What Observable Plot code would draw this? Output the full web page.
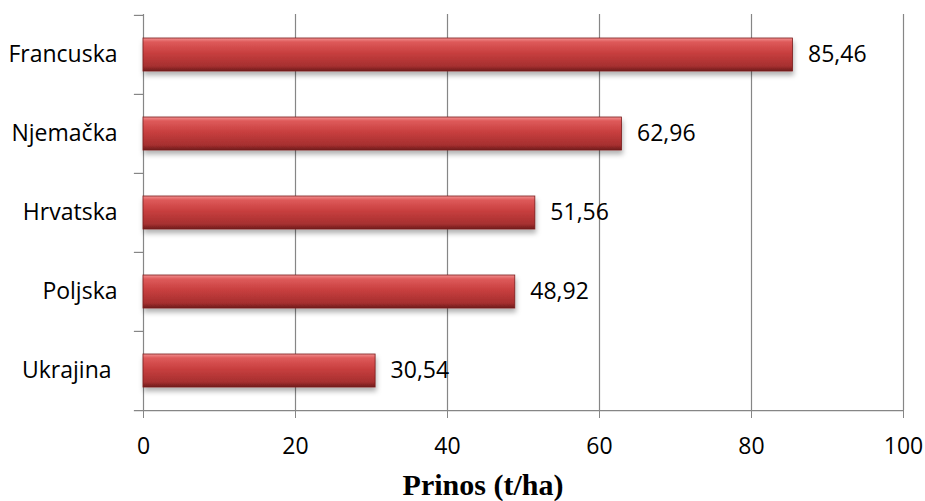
<!DOCTYPE html>
<html><head><meta charset="utf-8">
<script src="https://cdn.jsdelivr.net/npm/d3@7"></script>
<script src="https://cdn.jsdelivr.net/npm/@observablehq/plot@0.6"></script>
<style>
body{margin:0;background:#fff}
#title{font-family:"Liberation Serif","Times New Roman",serif;font-weight:bold;font-size:30px;line-height:34px;margin-top:6px;padding-left:41px;width:884px;text-align:center;color:#000}
</style>
</head><body>
<div id="chart"></div>
<div id="title">Prinos (t/ha)</div>
<script>
const countries = ["Francuska", "Njemačka", "Hrvatska", "Poljska", "Ukrajina "];
const yields = [85.46, 62.96, 51.56, 48.92, 30.54];
const xTicks = [0, 20, 40, 60, 80, 100];

const data = countries.map((c, i) => ({country: c, value: yields[i]}));
const fmt = v => v.toFixed(2).replace(".", ",");
const gray = "#868686";
const bw = (410 - 14) / countries.length;

const plot = Plot.plot({
  width: 925, height: 462,
  marginTop: 14, marginBottom: 52, marginLeft: 143, marginRight: 22,
  style: {fontFamily: "'Open Sans', sans-serif", fontSize: "23px", color: "#000", background: "#fff", overflow: "visible"},
  x: {domain: [0, 100], label: null},
  y: {domain: countries, padding: 0, label: null},
  marks: [
    Plot.ruleX(xTicks.slice(1), {stroke: gray, strokeWidth: 1.2}),
    Plot.ruleX([0], {stroke: gray, strokeWidth: 1.2}),
    Plot.ruleY(countries, {y: d => d, dy: -bw / 2, x1: -1.2, x2: 0, stroke: gray, strokeWidth: 1.2}),
    Plot.ruleY(countries.slice(-1), {y: d => d, dy: bw / 2, x1: -1.2, x2: 100, stroke: gray, strokeWidth: 1.2}),
    Plot.barX(data, {x: "value", y: "country", fill: "url(#barGrad)", stroke: "#7a1c1c", strokeWidth: 0.8, insetTop: 23, insetBottom: 23}),
    Plot.text(data, {x: "value", y: "country", text: d => fmt(d.value), textAnchor: "start", dx: 15, fontSize: 23}),
    Plot.axisX({ticks: xTicks, tickSize: 8, tickPadding: 19, stroke: gray, tickFormat: d => d, label: null, fontSize: 23}),
    Plot.axisY({tickSize: 0, tickPadding: 26, label: null, fontSize: 23})
  ]
});

const svg = d3.select(plot);
svg.insert("defs", ":first-child").html(`
  <linearGradient id="barGrad" x1="0" y1="0" x2="0" y2="1">
    <stop offset="0" stop-color="#f29090"/>
    <stop offset="0.12" stop-color="#de5a5a"/>
    <stop offset="0.45" stop-color="#c83f3f"/>
    <stop offset="0.85" stop-color="#a62f2f"/>
    <stop offset="1" stop-color="#6e1a1a"/>
  </linearGradient>
  <filter id="shadow" x="-5%" y="-30%" width="110%" height="180%">
    <feDropShadow dx="1" dy="4" stdDeviation="2.5" flood-color="#000" flood-opacity="0.3"/>
  </filter>`);
svg.select('g[aria-label="bar"]').attr("filter", "url(#shadow)");
svg.selectAll("text").style("white-space", "pre");
document.getElementById("chart").appendChild(plot);
</script>
</body></html>
